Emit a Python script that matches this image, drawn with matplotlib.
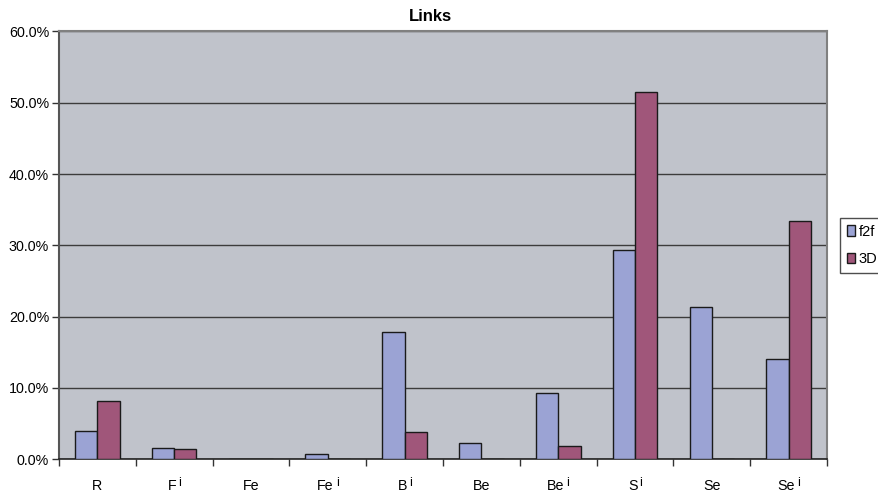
import matplotlib
matplotlib.use("Agg")
import matplotlib.pyplot as plt
import matplotlib.transforms as mtransforms
import numpy as np
from matplotlib.ticker import FuncFormatter, FixedLocator

plt.rcParams['font.family'] = ['Liberation Sans', 'DejaVu Sans']

# category base names and their superscripts ("" when none)
base_labels = ["R", "F", "Fe", "Fe", "B", "Be", "Be", "S", "Se", "Se"]
sup_labels = ["", "i", "", "i", "i", "", "i", "i", "", "i"]
f2f = [4.0, 1.6, 0.0, 0.7, 17.8, 2.3, 9.3, 29.4, 21.4, 14.1]
d3 = [8.2, 1.4, 0.0, 0.0, 3.8, 0.0, 1.9, 51.5, 0.0, 33.4]
series_names = ["f2f", "3D"]
colors = ["#9BA3D4", "#A0567A"]

fig = plt.figure(figsize=(8.79, 4.96), dpi=100)
ax = fig.add_axes([0.067, 0.074, 0.874, 0.8625])
ax.set_facecolor("#C0C3CB")

x = np.arange(len(base_labels))
w = 0.29
for i, (vals, c, name) in enumerate(zip([f2f, d3], colors, series_names)):
    ax.bar(x + (i - 0.5) * w, vals, width=w, color=c, edgecolor="#1a1a1a",
           linewidth=1.0, label=name, zorder=3)

ax.set_xlim(-0.5, len(base_labels) - 0.5)
ax.set_ylim(0, 60)
ax.yaxis.set_major_locator(FixedLocator(np.arange(0, 61, 10)))
ax.yaxis.set_major_formatter(FuncFormatter(lambda v, p: f"{v:.1f}%"))
ax.yaxis.grid(True, color="#3c3c3c", linewidth=1.0, zorder=1)
ax.set_axisbelow(True)

ax.set_xticks(np.arange(-0.5, len(base_labels), 1.0))
ax.set_xticklabels([])
ax.tick_params(axis="x", length=5, width=1, color="#333333", direction="out")
ax.tick_params(axis="y", length=5, width=1, color="#333333", direction="out",
               labelsize=10.3, pad=2)

for s in ["top", "right"]:
    ax.spines[s].set_color("#808080")
    ax.spines[s].set_linewidth(1.5)
ax.spines["left"].set_color("#555555")
ax.spines["left"].set_linewidth(1.5)
ax.spines["bottom"].set_color("#222222")
ax.spines["bottom"].set_linewidth(1.2)

# chart title, centred over the whole chart area
fig.text(430 / 879, 1 - 16.5 / 496, "Links", fontsize=12, fontweight="bold",
         ha="center", va="center")

# category labels with a raised, slightly smaller superscript
fig.canvas.draw()
renderer = fig.canvas.get_renderer()
lab_fs = 10.3
sup_fs = 9.0
gap_px = 2.0
trans = mtransforms.blended_transform_factory(ax.transData, fig.transFigure)
y_base = 5.5 / 496
for xi, b, s in zip(x, base_labels, sup_labels):
    tb = ax.text(xi, y_base, b, transform=trans, ha="left", va="baseline",
                 fontsize=lab_fs, clip_on=False)
    wb = tb.get_window_extent(renderer).width
    if s:
        ts = ax.text(xi, y_base, s, transform=trans, ha="left", va="baseline",
                     fontsize=sup_fs, clip_on=False)
        ws = ts.get_window_extent(renderer).width
        total = wb + gap_px + ws
        ts.set_transform(mtransforms.offset_copy(trans, fig=fig, x=-total / 2 + wb + gap_px,
                                                 y=4.0, units="dots"))
    else:
        total = wb
    tb.set_transform(mtransforms.offset_copy(trans, fig=fig, x=-total / 2, y=0, units="dots"))

leg = ax.legend(loc="center left", bbox_to_anchor=(1.0, 0.5), borderaxespad=0.9,
                fancybox=False, edgecolor="#222222", fontsize=10.5,
                handlelength=0.55, handleheight=0.75, handletextpad=0.25,
                borderpad=0.45, labelspacing=0.9, frameon=True)
leg.get_frame().set_linewidth(1.0)

fig.savefig("out.png", dpi=100)
